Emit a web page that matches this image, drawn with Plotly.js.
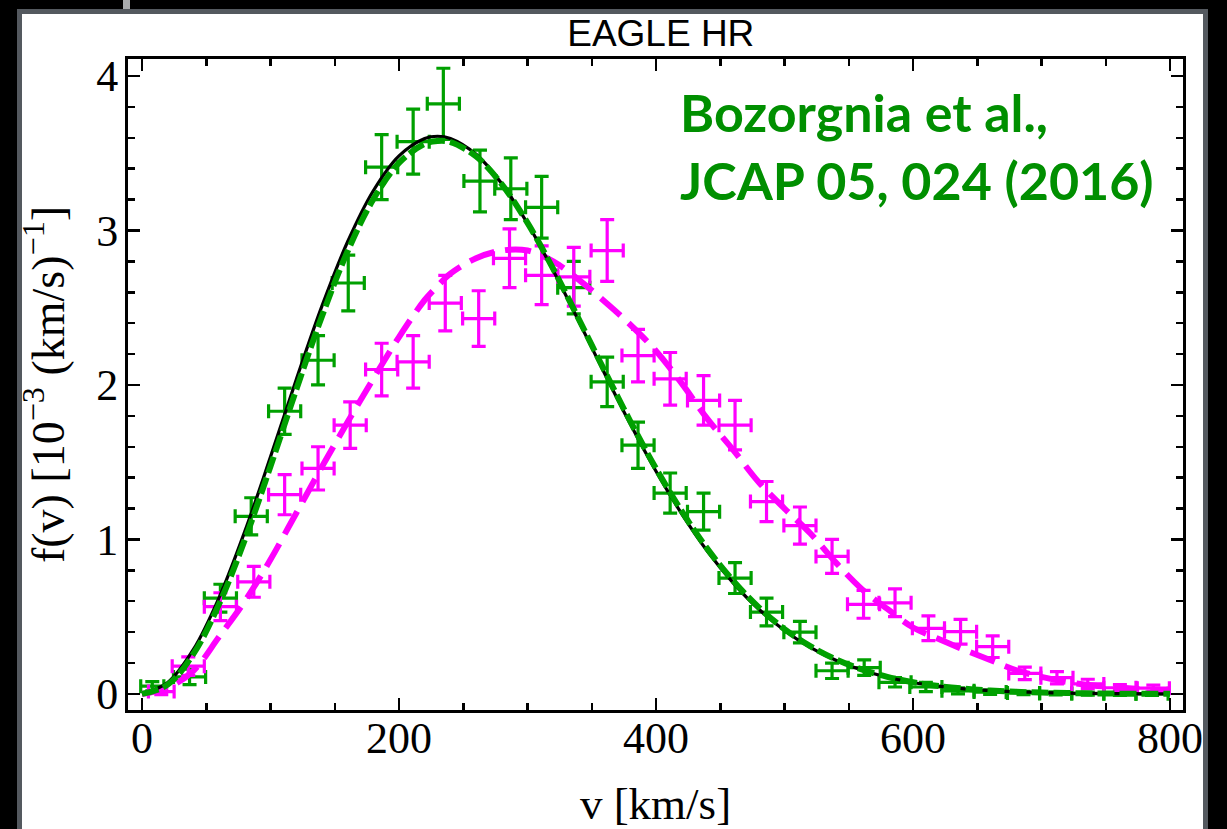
<!DOCTYPE html>
<html>
<head>
<meta charset="utf-8">
<script src="https://cdn.plot.ly/plotly-3.0.1.min.js"></script>
<style>
  html, body { margin: 0; padding: 0; background: #000; width: 1227px; height: 829px; overflow: hidden; }
  #frame { position: absolute; left: 17px; top: 9px; width: 1181px; height: 830px; border: 5px solid #54595f; background: #fff; }
  #tab { position: absolute; left: 123px; top: 0px; width: 7px; height: 9px; background: #a9abad; }
  #plot { position: absolute; left: 0; top: 0; width: 1227px; height: 829px; }
</style>
</head>
<body>
<div id="tab"></div>
<div id="frame"></div>
<div id="plot"></div>
<script>
// ---- data ----
// smooth curves (v grid in km/s, f in 1e-3 (km/s)^-1)
const vCurve = [0,20,40,60,80,100,120,140,160,180,200,220,230,240,260,280,300,320,340,360,380,400,420,440,460,480,500,520,540,560,580,600,620,640,660,680,700,720,740,760,780,800];
const fBlack = [0,0.074,0.288,0.624,1.052,1.535,2.034,2.510,2.927,3.257,3.483,3.596,3.610,3.596,3.493,3.303,3.045,2.741,2.411,2.074,1.747,1.441,1.166,0.924,0.719,0.548,0.411,0.302,0.218,0.155,0.108,0.074,0.050,0.033,0.021,0.014,0.009,0.005,0.003,0.002,0.001,0.001];
const fGreenFit = [0,0.060,0.259,0.582,0.998,1.474,1.969,2.444,2.865,3.202,3.437,3.561,3.579,3.572,3.479,3.299,3.049,2.751,2.425,2.091,1.765,1.459,1.183,0.939,0.733,0.560,0.420,0.309,0.224,0.159,0.111,0.076,0.051,0.034,0.022,0.014,0.009,0.006,0.0035,0.002,0.001,0.001];
const fMagentaFit = [0,0.04,0.15,0.37,0.60,0.87,1.17,1.47,1.76,2.04,2.31,2.55,2.64,2.72,2.82,2.87,2.87,2.80,2.68,2.54,2.39,2.22,2.01,1.78,1.58,1.37,1.20,1.04,0.85,0.68,0.55,0.43,0.355,0.285,0.22,0.155,0.11,0.077,0.055,0.042,0.030,0.021];

// green data points
const vGreen = [8,37,61,85,111,137,160.5,186.5,211,234.5,263,287,311,336,362,386,411,437,461.5,486,512,537,562,586,610,635,660,686,711,736,761,786];
const fGreen = [0.05,0.11,0.62,1.15,1.83,2.16,2.66,3.41,3.575,3.82,3.32,3.27,3.15,2.63,2.02,1.61,1.30,1.18,0.75,0.53,0.40,0.15,0.17,0.075,0.045,0.02,0.012,0.006,0.003,0.002,0.001,0.0005];
const exGreen = [9,12.5,12.5,12.5,12.5,12.5,12.5,12.5,12.5,12.5,12.5,12.5,12.5,12.5,12.5,12.5,12.5,12.5,12.5,12.5,12.5,12.5,12.5,12.5,12.5,12.5,12.5,12.5,12.5,12.5,12.5,12.5];
const eyGreen = [0.03,0.05,0.09,0.12,0.15,0.16,0.18,0.21,0.21,0.23,0.2,0.2,0.2,0.17,0.16,0.15,0.13,0.12,0.1,0.09,0.07,0.05,0.05,0.03,0.03,0.02,0.015,0.01,0.01,0.01,0.01,0.01];

// magenta data points
const vMag = [15,36,61,87,111,137,162,186.5,211,236,262,286,311,336,362,386,411,437,461.5,486,512,537,561.5,586,612,637,662,687,712,736,761,787];
const fMag = [0.015,0.18,0.565,0.726,1.29,1.46,1.74,2.10,2.15,2.53,2.43,2.82,2.71,2.70,2.87,2.19,2.04,1.90,1.74,1.245,1.09,0.89,0.58,0.59,0.425,0.403,0.306,0.133,0.105,0.065,0.04,0.037];
const exMag = [10,12.5,12.5,12.5,12.5,12.5,12.5,12.5,12.5,12.5,12.5,12.5,12.5,12.5,12.5,12.5,12.5,12.5,12.5,12.5,12.5,12.5,12.5,12.5,12.5,12.5,12.5,12.5,12.5,12.5,12.5,12.5];
const eyMag = [0.02,0.06,0.09,0.1,0.13,0.14,0.15,0.17,0.17,0.18,0.18,0.19,0.19,0.19,0.2,0.17,0.17,0.16,0.16,0.13,0.12,0.11,0.09,0.09,0.08,0.08,0.07,0.04,0.04,0.03,0.02,0.02];

const xTickVals = [0,200,400,600,800];
const yTickVals = [0,1,2,3,4];

const titleText = 'EAGLE HR';
const xTitle = 'v [km/s]';
const yTitle = 'f(v) [10<sup>\u22123</sup> (km/s)<sup>\u22121</sup>]';
const noteText = 'Bozorgnia et al.,<br>JCAP 05, 024 (2016)';

// ---- styles ----
const GREEN = '#00a000';
const MAGENTA = '#ff00ff';

function errTrace(x, y, ex, ey, color) {
  return {
    type: 'scatter', mode: 'markers', x: x, y: y,
    marker: { size: 3, color: color },
    error_x: { type: 'data', array: ex, visible: true, color: color, thickness: 3.2, width: 7 },
    error_y: { type: 'data', array: ey, visible: true, color: color, thickness: 3.2, width: 7 },
    showlegend: false, hoverinfo: 'skip'
  };
}

const traces = [
  errTrace(vGreen, fGreen, exGreen, eyGreen, GREEN),
  errTrace(vMag, fMag, exMag, eyMag, MAGENTA),
  { type: 'scatter', mode: 'lines', x: vCurve, y: fMagentaFit, line: { color: MAGENTA, width: 6, dash: '26px,11px', shape: 'spline' }, showlegend: false },
  { type: 'scatter', mode: 'lines', x: vCurve, y: fBlack, line: { color: '#000', width: 3.2, shape: 'spline' }, showlegend: false },
  { type: 'scatter', mode: 'lines', x: vCurve, y: fGreenFit, line: { color: GREEN, width: 6, dash: '17px,5px', shape: 'spline' }, showlegend: false }
];

const axisCommon = {
  showgrid: false, zeroline: false, showline: true, linecolor: '#000', linewidth: 3,
  mirror: 'ticks', ticks: 'inside', tickcolor: '#000', tickwidth: 2.5, ticklen: 12,
  ticklabeloverflow: 'allow',
  tickfont: { family: 'Liberation Serif, Times New Roman, serif', size: 44, color: '#000' }
};

const layout = {
  width: 1227, height: 829,
  paper_bgcolor: 'rgba(0,0,0,0)', plot_bgcolor: '#fff',
  margin: { l: 128, r: 44, t: 59, b: 119 },
  font: { family: 'Liberation Serif, serif', color: '#000' },
  title: { text: titleText, font: { family: 'Liberation Sans, Arial, sans-serif', size: 37, color: '#000' },
           x: 0.505, xref: 'paper', xanchor: 'center', y: 1 - 33 / 829, yref: 'container', yanchor: 'middle' },
  xaxis: Object.assign({}, axisCommon, {
    range: [-10.9, 810.1], tickmode: 'array', tickvals: xTickVals, ticktext: xTickVals.map(String),
    minor: { dtick: 50, tick0: 0, ticks: 'inside', ticklen: 7, tickwidth: 2.5, tickcolor: '#000' },
    ticklabelstandoff: -13,
    title: { text: xTitle, font: { family: 'Liberation Serif, serif', size: 45, color: '#000' }, standoff: 26 }
  }),
  yaxis: Object.assign({}, axisCommon, {
    range: [-0.104, 4.11], tickmode: 'array', tickvals: yTickVals, ticktext: yTickVals.map(String),
    minor: { dtick: 0.2, tick0: 0, ticks: 'inside', ticklen: 7, tickwidth: 2.5, tickcolor: '#000' },
    ticklabelstandoff: -2,
    title: { text: yTitle, font: { family: 'Liberation Serif, serif', size: 46, color: '#000' }, standoff: 18 }
  }),
  annotations: [{
    text: noteText, xref: 'paper', yref: 'paper', x: 0.521, y: 0.969, xanchor: 'left', yanchor: 'top',
    align: 'left', showarrow: false,
    font: { family: 'Lato, Open Sans, sans-serif', size: 52, color: '#008f00', weight: 'bold' }
  }]
};

Plotly.newPlot('plot', traces, layout, { displayModeBar: false, staticPlot: true });
</script>
</body>
</html>
